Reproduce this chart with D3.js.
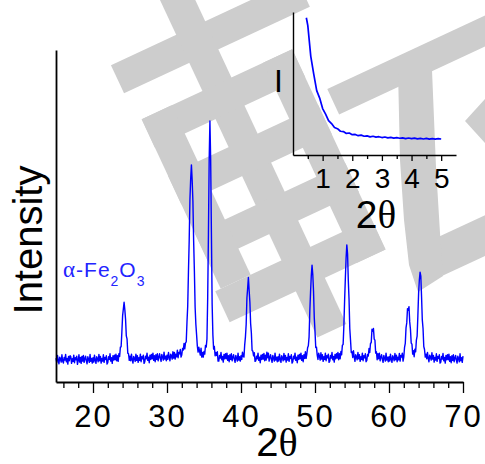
<!DOCTYPE html>
<html>
<head>
<meta charset="utf-8">
<script src="https://cdn.jsdelivr.net/npm/d3@7"></script>
<style>
  html, body { margin: 0; padding: 0; background: #fff; }
  svg { display: block; }
  text { font-family: "Liberation Sans", Arial, sans-serif; fill: #000; }
</style>
</head>
<body>
<svg id="chart" width="485" height="464"></svg>
<script>
// XRD pattern, 2θ = 15.0 ... 70.0 in 0.1° steps (one row per degree)
const xrdIntensity = [
  72, 59, 80, 65, 55, 75, 69, 60, 82, 63,
  57, 74, 66, 83, 61, 71, 54, 77, 64, 79,
  76, 56, 70, 62, 81, 58, 73, 67, 78, 53,
  65, 82, 60, 74, 56, 77, 63, 80, 59, 70,
  78, 64, 55, 76, 68, 59, 83, 62, 71, 57,
  73, 60, 81, 66, 56, 76, 70, 61, 83, 64,   // 20
  77, 57, 71, 63, 82, 59, 74, 68, 79, 54,
  59, 76, 68, 85, 63, 73, 56, 79, 66, 81,
  67, 84, 64, 79, 62, 85, 77, 105, 106, 150,
  199, 220, 240, 218, 189, 139, 130, 87, 85, 65,
  78, 64, 84, 67, 57, 77, 71, 62, 84, 65,   // 25
  79, 59, 73, 65, 84, 61, 76, 70, 81, 56,
  61, 78, 70, 87, 65, 75, 58, 81, 68, 83,
  70, 87, 65, 79, 61, 82, 68, 85, 64, 75,
  85, 71, 62, 83, 75, 66, 90, 69, 78, 64,
  81, 68, 89, 74, 64, 84, 78, 69, 91, 72,   // 30
  89, 69, 84, 76, 96, 73, 89, 85, 98, 75,
  82, 101, 96, 116, 100, 118, 121, 180, 229, 333,
  427, 550, 612, 654, 608, 545, 425, 335, 225, 174,
  142, 108, 90, 105, 93, 81, 102, 75, 89, 75,
  92, 84, 110, 105, 130, 255, 446, 669, 786, 672,   // 35
  451, 234, 142, 99, 107, 79, 89, 80, 91, 63,
  63, 80, 72, 89, 67, 77, 60, 83, 70, 85,
  70, 87, 65, 79, 61, 82, 68, 85, 64, 75,
  82, 68, 59, 80, 72, 63, 87, 66, 76, 63,
  79, 68, 90, 77, 75, 112, 136, 174, 253, 283,   // 40
  315, 276, 241, 176, 148, 95, 93, 79, 88, 62,
  64, 78, 70, 87, 65, 75, 58, 81, 68, 83,
  69, 86, 64, 81, 66, 90, 73, 87, 63, 74,
  82, 68, 59, 80, 72, 63, 87, 66, 75, 61,
  76, 63, 84, 69, 59, 79, 73, 64, 86, 67,   // 45
  80, 60, 74, 66, 85, 62, 77, 71, 82, 57,
  61, 78, 70, 87, 65, 75, 58, 81, 68, 83,
  70, 87, 65, 79, 61, 82, 71, 91, 71, 85,
  103, 109, 136, 213, 271, 321, 352, 324, 274, 194,
  153, 104, 105, 81, 68, 87, 78, 66, 88, 69,   // 50
  82, 62, 76, 68, 87, 64, 79, 73, 84, 59,
  63, 80, 72, 89, 67, 77, 60, 83, 70, 85,
  72, 89, 67, 85, 70, 92, 82, 111, 113, 168,
  244, 311, 373, 413, 386, 306, 249, 161, 126, 89,
  91, 74, 94, 76, 62, 82, 76, 67, 89, 70,   // 55
  82, 62, 76, 68, 87, 64, 79, 73, 85, 61,
  65, 83, 78, 101, 89, 116, 119, 159, 153, 161,
  129, 126, 87, 91, 67, 85, 70, 87, 64, 75,
  82, 68, 59, 80, 72, 63, 87, 66, 75, 61,
  76, 63, 84, 69, 59, 79, 73, 64, 86, 67,   // 60
  81, 61, 75, 67, 86, 63, 80, 75, 87, 63,
  76, 104, 116, 163, 178, 221, 216, 227, 181, 159,
  117, 114, 84, 94, 76, 99, 91, 126, 138, 199,
  267, 307, 331, 319, 257, 187, 161, 107, 98, 75,
  84, 70, 89, 71, 61, 81, 75, 66, 88, 69,   // 65
  80, 60, 74, 66, 85, 62, 77, 71, 82, 57,
  60, 77, 69, 86, 64, 74, 57, 80, 67, 82,
  67, 84, 62, 76, 58, 79, 65, 82, 61, 72,
  80, 66, 57, 78, 70, 61, 85, 64, 73, 59,
  78
];
const twoTheta = xrdIntensity.map((_, i) => +(15 + i * 0.1).toFixed(1));
const xTicks = [20, 30, 40, 50, 60, 70];
const xMinorTicks = [16, 18, 22, 24, 26, 28, 32, 34, 36, 38, 42, 44, 46, 48, 52, 54, 56, 58, 62, 64, 66, 68];

// inset: low-angle scan
const insetTwoTheta = [0.45, 0.5, 0.6, 0.7, 0.8, 0.9, 1.0, 1.1, 1.2, 1.3, 1.4, 1.5, 1.6, 1.7, 1.8, 1.9,
  2.0, 2.1, 2.2, 2.3, 2.4, 2.5, 2.6, 2.7, 2.8, 2.9, 3.0, 3.1, 3.2, 3.3, 3.4, 3.5, 3.6, 3.7, 3.8, 3.9,
  4.0, 4.1, 4.2, 4.3, 4.4, 4.5, 4.6, 4.7, 4.8, 4.9, 5.0];
const insetIntensity = [96, 90.5, 69, 56.5, 45, 39.8, 32.5, 28.6, 24, 22, 19.2, 18.4, 16.6, 16.4, 15.1, 15.4,
  14.2, 14.4, 13.5, 13.9, 13.1, 13.4, 12.7, 13.1, 12.5, 12.8, 12.2, 12.6, 12.0, 12.3, 11.8, 12.2, 11.7, 12.0, 11.5, 11.9,
  11.4, 11.8, 11.3, 11.6, 11.2, 11.6, 11.1, 11.5, 11.1, 11.4, 11.2];
const insetTicks = [1, 2, 3, 4, 5];
const insetMinorTicks = [0.5, 1.5, 2.5, 3.5, 4.5];

const blue = "#0000ff";
const svg = d3.select("#chart");

// background watermark (grey strokes)
const wm = svg.append("g").attr("fill", "#cdcdcd");
const wmRot = wm.append("g").attr("transform", "rotate(-25)");
[[73, 106, 205, 31], [145, 60, 32, 380], [78, 168, 166, 31], [78, 230, 166, 32], [78, 294, 166, 32],
 [72, 355, 172, 34], [78, 168, 33, 187], [212, 168, 32, 221], [259, 219, 320, 28], [285, 400, 200, 37]]
  .forEach(([u, v, w, h]) => wmRot.append("rect").attr("x", u).attr("y", v).attr("width", w).attr("height", h));
wm.append("polygon").attr("points", "398,70 400,160 404,220 409,265 418,292 443,276 440,233 436,167 432,70");
wm.append("polygon").attr("points", "465,121 486,98 486,144");

// main chart
const x = d3.scaleLinear().domain([15, 70]).range([56, 463]);
const y = d3.scaleLinear().domain([0, 1000]).range([382, 50]);

svg.append("path")
  .datum(twoTheta.map((t, i) => [t, xrdIntensity[i]]))
  .attr("fill", "none").attr("stroke", blue).attr("stroke-width", 1.4).attr("stroke-linejoin", "round")
  .attr("d", d3.line().x(d => x(d[0])).y(d => y(d[1])));

const xAxis = svg.append("g").attr("transform", "translate(0,382)")
  .call(d3.axisBottom(x).tickValues(xTicks).tickSize(11).tickSizeOuter(0).tickPadding(12).tickFormat(d3.format("d")));
svg.append("g").attr("transform", "translate(0,382)")
  .call(d3.axisBottom(x).tickValues(xMinorTicks).tickSize(6).tickSizeOuter(0).tickFormat(""))
  .call(g => g.select(".domain").remove());
xAxis.select(".domain").attr("stroke-width", 1.8);
svg.selectAll(".tick line").attr("stroke-width", 1.4);
xAxis.selectAll(".tick text").attr("font-size", 31).attr("letter-spacing", 2)
  .attr("font-family", "Liberation Sans, Arial, sans-serif").attr("fill", "#000");

svg.append("g").attr("transform", "translate(56,0)")
  .call(d3.axisLeft(y).tickValues([]).tickSizeOuter(0))
  .select(".domain").attr("stroke-width", 1.8);

svg.append("text").attr("transform", "translate(42,240) rotate(-90)")
  .attr("text-anchor", "middle").attr("font-size", 40).text("Intensity");

const xTitle = svg.append("text").attr("x", 277).attr("y", 456).attr("text-anchor", "middle").attr("font-size", 40);
xTitle.append("tspan").text("2");
xTitle.append("tspan").attr("font-family", "Liberation Serif, serif").text("θ");

const phase = svg.append("text").attr("x", 63).attr("y", 277).attr("font-size", 21)
  .attr("letter-spacing", 1).style("fill", "#2424ff");
phase.append("tspan").attr("font-family", "Liberation Serif, serif").attr("font-size", 23).text("α");
phase.append("tspan").text("-Fe");
phase.append("tspan").attr("font-size", 14).attr("dy", 9).text("2");
phase.append("tspan").attr("dy", -9).text("O");
phase.append("tspan").attr("font-size", 14).attr("dy", 9).text("3");

// inset
const ix = d3.scaleLinear().domain([0, 5.5]).range([293, 456]);
const iy = d3.scaleLinear().domain([0, 100]).range([155, 12]);

svg.append("path")
  .datum(insetTwoTheta.map((t, i) => [t, insetIntensity[i]]))
  .attr("fill", "none").attr("stroke", blue).attr("stroke-width", 1.7).attr("stroke-linejoin", "round")
  .attr("d", d3.line().x(d => ix(d[0])).y(d => iy(d[1])));

const ixAxis = svg.append("g").attr("transform", "translate(0,155)")
  .call(d3.axisBottom(ix).tickValues(insetTicks).tickSize(6).tickSizeOuter(0).tickPadding(7).tickFormat(d3.format("d")));
svg.append("g").attr("transform", "translate(0,155)")
  .call(d3.axisBottom(ix).tickValues(insetMinorTicks).tickSize(4).tickSizeOuter(0).tickFormat(""))
  .call(g => g.select(".domain").remove());
ixAxis.select(".domain").attr("stroke-width", 1.4);
ixAxis.selectAll(".tick text").attr("font-size", 28)
  .attr("font-family", "Liberation Sans, Arial, sans-serif").attr("fill", "#000");
svg.selectAll(".tick line").attr("stroke-width", 1.3);

svg.append("g").attr("transform", "translate(293,0)")
  .call(d3.axisLeft(iy).tickValues([]).tickSizeOuter(0))
  .select(".domain").attr("stroke-width", 1.4);

svg.append("text").attr("x", 278.5).attr("y", 92).attr("text-anchor", "middle").attr("font-size", 32).text("I");

const ixTitle = svg.append("text").attr("x", 376).attr("y", 228).attr("text-anchor", "middle").attr("font-size", 39);
ixTitle.append("tspan").text("2");
ixTitle.append("tspan").attr("font-family", "Liberation Serif, serif").text("θ");
</script>
</body>
</html>
